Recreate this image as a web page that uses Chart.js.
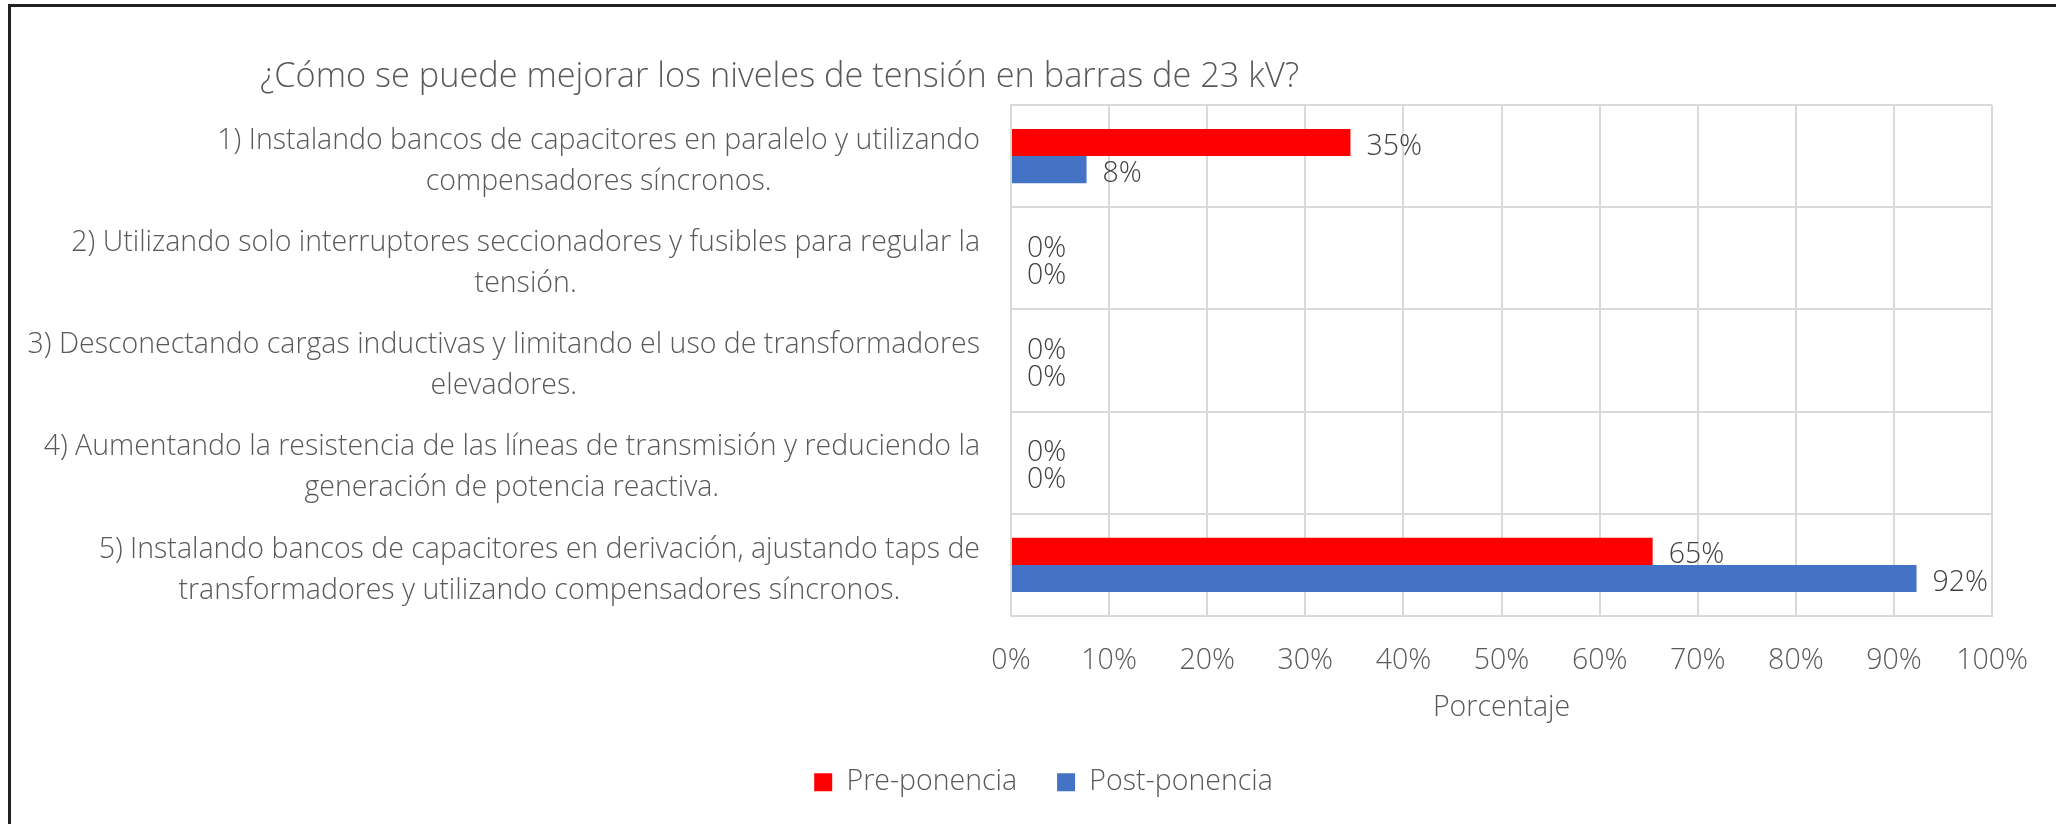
<!DOCTYPE html>
<html><head><meta charset="utf-8">
<script src="https://cdn.jsdelivr.net/npm/chart.js@4"></script>
<style>
html,body{margin:0;padding:0;background:#fff;}
#wrap{position:relative;width:2056px;height:824px;overflow:hidden;background:#fff;}
#c{position:absolute;left:0;top:0;}
#frame{position:absolute;left:8px;top:4px;width:2200px;height:1000px;border-top:3px solid #222;border-left:3px solid #222;pointer-events:none;}
</style></head>
<body><div id="wrap"><canvas id="c" width="2056" height="824"></canvas><div id="frame"></div></div>
<script>
const chartTitle = '¿Cómo se puede mejorar los niveles de tensión en barras de 23 kV?';
const categories = [
  ['1) Instalando bancos de capacitores en paralelo y utilizando', 'compensadores síncronos.'],
  ['2) Utilizando solo interruptores seccionadores y fusibles para regular la', 'tensión.'],
  ['3) Desconectando cargas inductivas y limitando el uso de transformadores', 'elevadores.'],
  ['4) Aumentando la resistencia de las líneas de transmisión y reduciendo la', 'generación de potencia reactiva.'],
  ['5) Instalando bancos de capacitores en derivación, ajustando taps de', 'transformadores y utilizando compensadores síncronos.']
];
const seriesNames = ['Pre-ponencia', 'Post-ponencia'];
const preValues = [34.6, 0, 0, 0, 65.4];
const postValues = [7.7, 0, 0, 0, 92.3];
const xAxisTitle = 'Porcentaje';
const xMin = 0, xMax = 100, xStep = 10;

const FONT = 28.5;
const WEIGHT = '300';
const FAMILY = "'Open Sans', sans-serif";
Chart.defaults.font.family = FAMILY;
Chart.defaults.font.weight = WEIGHT;
Chart.defaults.color = '#595959';

const placement = {
  id: 'placement',
  afterLayout(chart) {
    const t = chart.titleBlock;
    if (t) { t.right = 2 * 779.5 - t.left; }
    const lg = chart.legend;
    if (lg) { lg.left += 91; }
  }
};

const yLabels = {
  id: 'yLabels',
  afterDraw(chart) {
    const ctx = chart.ctx;
    const ys = chart.scales.y;
    const right = chart.chartArea.left - 31;
    ctx.save();
    ctx.font = WEIGHT + ' ' + FONT + 'px ' + FAMILY;
    ctx.fillStyle = '#595959';
    ctx.textAlign = 'center';
    ctx.textBaseline = 'middle';
    categories.forEach((lines, i) => {
      const y = ys.getPixelForValue(i);
      const maxW = Math.max(...lines.map(l => ctx.measureText(l).width));
      const cx = right - maxW / 2;
      const lh = 41;
      const y0 = y + 5 - lh * (lines.length - 1) / 2;
      lines.forEach((l, j) => ctx.fillText(l, cx, y0 + j * lh));
    });
    ctx.restore();
  }
};

const valueLabels = {
  id: 'valueLabels',
  afterDatasetsDraw(chart) {
    const ctx = chart.ctx;
    ctx.save();
    ctx.font = WEIGHT + ' ' + FONT + 'px ' + FAMILY;
    ctx.fillStyle = '#404040';
    ctx.textAlign = 'left';
    ctx.textBaseline = 'middle';
    chart.data.datasets.forEach((ds, di) => {
      const meta = chart.getDatasetMeta(di);
      meta.data.forEach((bar, i) => {
        ctx.fillText(Math.round(ds.data[i]) + '%', bar.x + 16, bar.y + 4);
      });
    });
    ctx.restore();
  }
};

new Chart(document.getElementById('c'), {
  type: 'bar',
  data: {
    labels: categories.map(l => l.join(' ')),
    datasets: [
      { label: seriesNames[0], data: preValues, backgroundColor: '#FF0000', borderWidth: 0, categoryPercentage: 0.53, barPercentage: 1 },
      { label: seriesNames[1], data: postValues, backgroundColor: '#4472C4', borderWidth: 0, categoryPercentage: 0.53, barPercentage: 1 }
    ]
  },
  options: {
    indexAxis: 'y',
    responsive: false,
    animation: false,
    devicePixelRatio: 1,
    layout: { padding: { top: 0, left: 0, right: 60, bottom: 17.5 } },
    scales: {
      x: {
        type: 'linear', min: xMin, max: xMax,
        ticks: { stepSize: xStep, callback: v => v + '%', font: { size: FONT }, color: '#595959', padding: 28 },
        grid: { color: '#d9d9d9', lineWidth: 2, drawTicks: false },
        border: { color: '#d9d9d9', width: 2 },
        title: { display: true, text: xAxisTitle, font: { size: FONT }, color: '#595959', padding: { top: 0, bottom: 2.6 } },
        afterFit(s) { s.height = 112; }
      },
      y: {
        type: 'category',
        ticks: { display: false },
        grid: { color: '#d9d9d9', lineWidth: 2, drawTicks: false, offset: true },
        border: { color: '#d9d9d9', width: 2 },
        afterFit(s) { s.width = 1011; }
      }
    },
    plugins: {
      title: { display: true, text: chartTitle, font: { size: 34.3, weight: WEIGHT }, color: '#595959', padding: { top: 56.2, bottom: 7.6 } },
      legend: { position: 'bottom', labels: { boxWidth: 18, boxHeight: 18, padding: 40, font: { size: FONT }, color: '#595959' } },
      tooltip: { enabled: false }
    }
  },
  plugins: [placement, yLabels, valueLabels]
});
</script>
</body></html>
